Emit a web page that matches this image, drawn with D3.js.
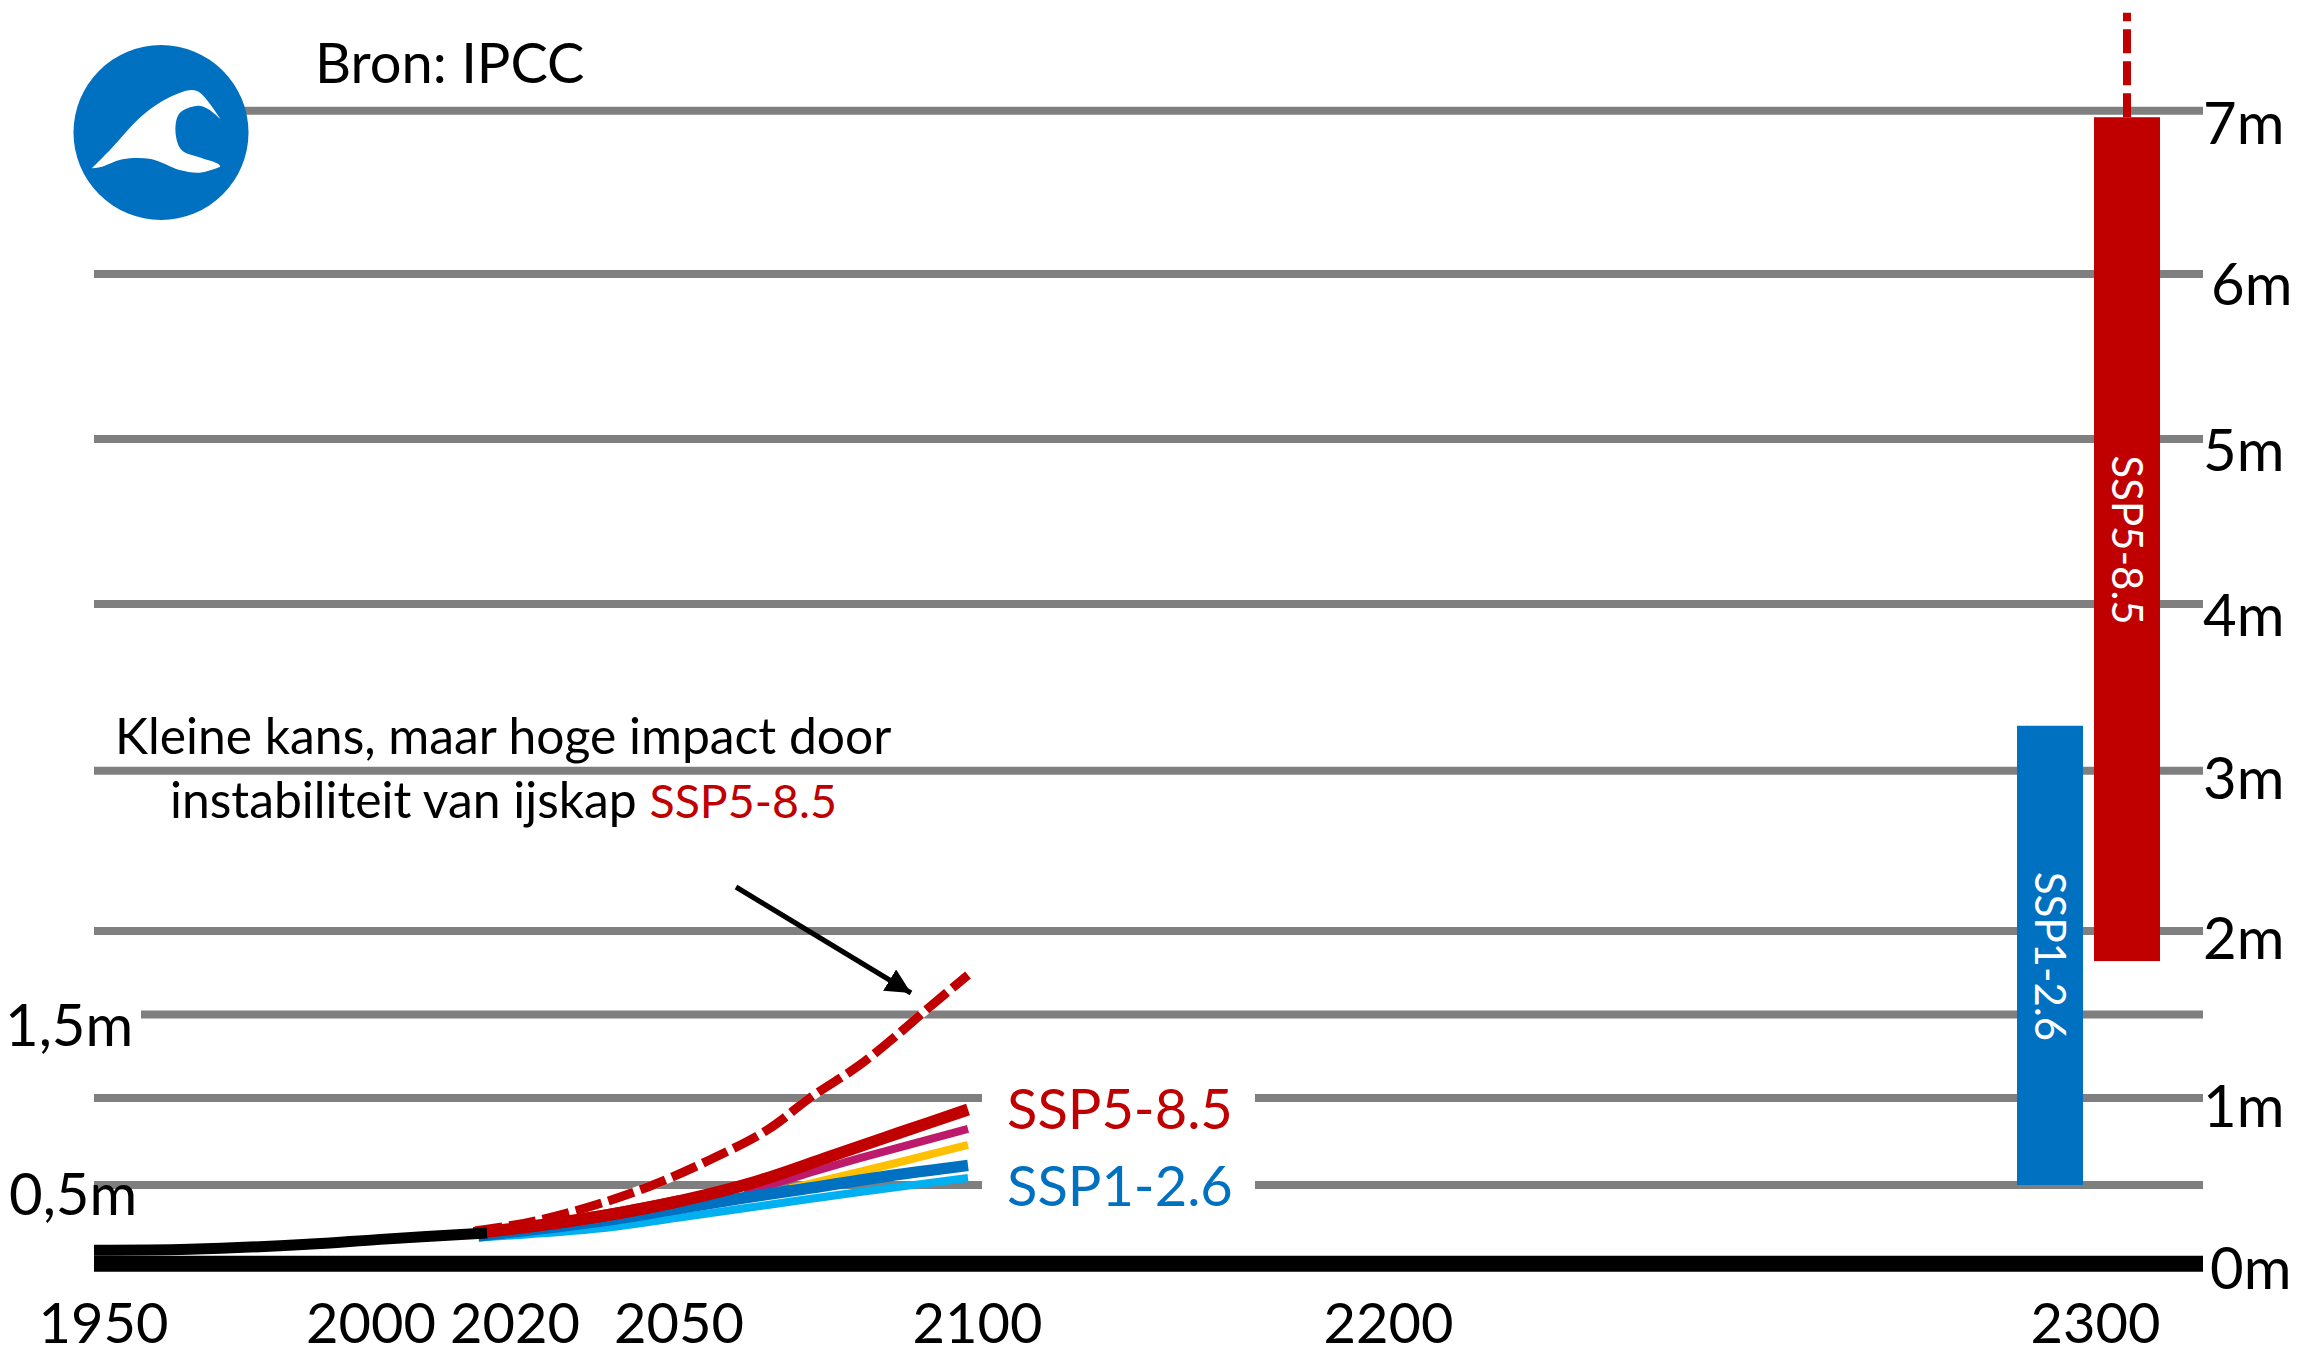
<!DOCTYPE html>
<html><head><meta charset="utf-8">
<script src="https://cdn.jsdelivr.net/npm/d3@7"></script>
<style>html,body{margin:0;padding:0;background:#fff}svg{display:block}text{font-family:Lato,"Open Sans",sans-serif}</style>
</head><body><div id="c"></div>
<script>
// --- data ---
const yearTicks = [1950, 2000, 2020, 2050, 2100, 2200, 2300];
const rightLevels = [7, 6, 5, 4, 3, 2, 1, 0];
const leftLevels = [1.5, 0.5];
const historic = [[1950,.086],[1967,.092],[1988,.124],[2001,.155],[2020,.195]];
const ssp585 = [[2017.6,.196],[2020,.204],[2039,.303],[2052,.398],[2064.7,.519],[2077,.663],[2088.6,.80],[2100,.934]];
const ssp370 = [[2062.8,.454],[2072.4,.557],[2082,.654],[2100,.822]];
const ssp245 = [[2070.4,.479],[2086.7,.615],[2100,.73]];
const ssp126 = [[2018.5,.178],[2039,.271],[2052,.352],[2062.8,.419],[2072.4,.473],[2086.7,.552],[2100,.613]];
const ssp119 = [[2018.5,.166],[2039,.225],[2052,.293],[2062.8,.352],[2072.4,.405],[2086.7,.479],[2100,.54]];
const ssp585High = [[2018,.21],[2027.5,.267],[2038,.373],[2047.6,.5],[2057,.644],[2066.6,.816],[2074,1.008],[2082,1.198],[2088.6,1.39],[2093,1.527],[2100,1.737]];
const barNames = ["SSP1-2.6", "SSP5-8.5"];
const barLow = [0.5, 1.82];
const barHigh = [3.27, 6.96];
const highEnd = [6.96, 7.6];

// --- scales (the source chart's axes are not uniform) ---
const W = 2317, H = 1354;
const x = d3.scaleLinear().domain([1950, 2020, 2100]).range([94, 487, 968]);
const xLabel = d3.scaleLinear().domain(yearTicks).range([103, 370.5, 514.5, 678.5, 977, 1388, 2095]);
const y = d3.scaleLinear().domain([0,.5,1,1.5,2,3,4,5,6,7]).range([1263.8,1185,1098,1014.6,931,770.8,604,439,274,110.7]);
const band = d3.scaleBand().domain(barNames).range([2017, 2160]).paddingInner(0.143);

const RED="#C00000", BLUE="#0070C0", GREY="#7F7F7F", FS=56, FSY=58, FSB=42, FSA=49.8, FSR=46.5;
const svg = d3.select("#c").append("svg").attr("width",W).attr("height",H).attr("viewBox",`0 0 ${W} ${H}`);

// gridlines
const gridL=94, gridR=2203, gapL=982, gapR=1255, indented=141;
const segs=[];
[7,6,5,4,3,2].forEach(v=>segs.push([v,gridL,gridR]));
segs.push([1.5,indented,gridR],[1,gridL,gapL],[1,gapR,gridR],[.5,gridL,gapL],[.5,gapR,gridR]);
svg.append("g").selectAll("line").data(segs).join("line")
  .attr("x1",d=>d[1]).attr("x2",d=>d[2]).attr("y1",d=>y(d[0])).attr("y2",d=>y(d[0]))
  .attr("stroke",GREY).attr("stroke-width",8);

// bars
const bars=svg.append("g");
bars.append("path").datum(highEnd)
  .attr("d",d=>d3.line()([[band("SSP5-8.5")+band.bandwidth()/2,y(d[0])],[band("SSP5-8.5")+band.bandwidth()/2,y(d[1])]]))
  .attr("stroke",RED).attr("stroke-width",8).attr("stroke-dasharray","24 8").attr("fill","none");
bars.selectAll("rect").data(barNames).join("rect")
  .attr("x",d=>band(d)).attr("width",band.bandwidth())
  .attr("y",(d,i)=>y(barHigh[i])).attr("height",(d,i)=>y(barLow[i])-y(barHigh[i]))
  .attr("fill",(d,i)=>i?RED:BLUE);
const barLabelY=[956.5,540];
bars.selectAll("text").data(barNames).join("text")
  .attr("transform",(d,i)=>`translate(${band(d)+band.bandwidth()/2-15},${barLabelY[i]}) rotate(90)`)
  .attr("text-anchor","middle").attr("fill","#fff").attr("font-size",FSB).text(d=>d);

// zero line
svg.append("line").attr("x1",gridL).attr("x2",gridR).attr("y1",y(0)).attr("y2",y(0)).attr("stroke","#000").attr("stroke-width",16);

// series
const line=d3.line().x(d=>x(d[0])).y(d=>y(d[1])).curve(d3.curveCatmullRom);
const drawn=[[ssp119,"#00B0F0",8],[ssp245,"#FFC000",8],[ssp370,"#BE1A6B",8],[ssp126,BLUE,11.5],[ssp585,RED,12]];
svg.append("g").selectAll("path").data(drawn).join("path")
  .attr("d",d=>line(d[0])).attr("stroke",d=>d[1]).attr("stroke-width",d=>d[2]).attr("fill","none");
svg.append("path").attr("d",line(ssp585High)).attr("stroke","#fff").attr("stroke-width",9).attr("fill","none");
svg.append("path").attr("d",line(ssp585High)).attr("stroke",RED).attr("stroke-width",9).attr("stroke-dasharray","27 7").attr("fill","none");
svg.append("path").attr("d",line(ssp585.slice(0,4))).attr("stroke",RED).attr("stroke-width",12).attr("fill","none");
svg.append("path").attr("d",line(historic)).attr("stroke","#000").attr("stroke-width",11).attr("fill","none");

// axes
const xAxis=svg.append("g").attr("transform","translate(0,1343)")
  .call(d3.axisBottom(xLabel).tickValues(yearTicks).tickFormat(d3.format("d")).tickSize(0).tickPadding(0));
xAxis.select(".domain").remove();
xAxis.selectAll("text").attr("font-size",FS).attr("fill","#000").attr("dy",0).attr("y",0);

const rightX={7:2203,6:2211,5:2203,4:2203,3:2203,2:2203,1:2203,0:2210};
const rightDy={7:32.3,6:30,5:31,4:31,3:27.2,2:27,1:28,0:25};
const yAxis=svg.append("g")
  .call(d3.axisRight(y).tickValues(rightLevels).tickFormat(d=>d+"m").tickSize(0).tickPadding(0));
yAxis.select(".domain").remove();
yAxis.selectAll("text").attr("font-size",FSY).attr("fill","#000").attr("text-anchor","start").attr("dy",0)
  .attr("x",d=>rightX[d]).attr("y",d=>y(d)+rightDy[d]).attr("transform",d=>`translate(0,${-y(d)})`);
const leftX={1.5:5,.5:9};
const leftDy={1.5:31,.5:29};
const yAxisL=svg.append("g")
  .call(d3.axisLeft(y).tickValues(leftLevels).tickFormat(d=>String(d).replace(".",",")+"m").tickSize(0).tickPadding(0));
yAxisL.select(".domain").remove();
yAxisL.selectAll("text").attr("font-size",FSY).attr("fill","#000").attr("text-anchor","start").attr("dy",0)
  .attr("x",d=>leftX[d]).attr("y",d=>y(d)+leftDy[d]).attr("transform",d=>`translate(0,${-y(d)})`);

// texts
svg.append("text").attr("x",315).attr("y",83).attr("font-size",FS).text("Bron: IPCC");
svg.append("text").attr("x",1007).attr("y",1129).attr("font-size",FS).attr("fill",RED).text("SSP5-8.5");
svg.append("text").attr("x",1007).attr("y",1205.7).attr("font-size",FS).attr("fill",BLUE).text("SSP1-2.6");
svg.append("text").attr("x",115).attr("y",753.5).attr("font-size",FSA).text("Kleine kans, maar hoge impact door");
const t2=svg.append("text").attr("x",170).attr("y",817.5).attr("font-size",FSA);
t2.append("tspan").text("instabiliteit van ijskap ");
t2.append("tspan").attr("fill",RED).attr("font-size",FSR).text("SSP5-8.5");

// arrow
svg.append("defs").append("marker").attr("id","ah").attr("viewBox","0 0 10 10").attr("refX",10).attr("refY",5)
  .attr("markerWidth",5).attr("markerHeight",5).attr("markerUnits","strokeWidth").attr("orient","auto")
  .append("path").attr("d","M0,0L10,5L0,10Z").attr("fill","#000");
svg.append("line").attr("x1",736).attr("y1",887).attr("x2",911).attr("y2",993).attr("stroke","#000").attr("stroke-width",5).attr("marker-end","url(#ah)");

// logo
const logo=svg.append("g");
logo.append("circle").attr("cx",161).attr("cy",132.5).attr("r",87.5).attr("fill",BLUE);
const wave1=[[91.8,168.3],[110,150],[142.9,115],[170,97],[191.8,90],[200,92.7],[210,104],[220.4,119]];
const wave2=[[220.4,119],[208,109],[198,105.7],[179.6,113.3],[175.5,131.7],[181.6,150],[200,157.5],[218.4,164],[220.4,166.7]];
const wave3=[[220.4,166.7],[200,172.7],[179.6,170],[151,159],[122.4,159.3],[102,166.7],[91.8,168.3]];
const wl=d3.line().curve(d3.curveCatmullRom);
logo.append("path").attr("d",wl(wave1)+wl(wave2).replace(/^M[^C]*/,"")+wl(wave3).replace(/^M[^C]*/,"")+"Z").attr("fill","#fff");
</script></body></html>
